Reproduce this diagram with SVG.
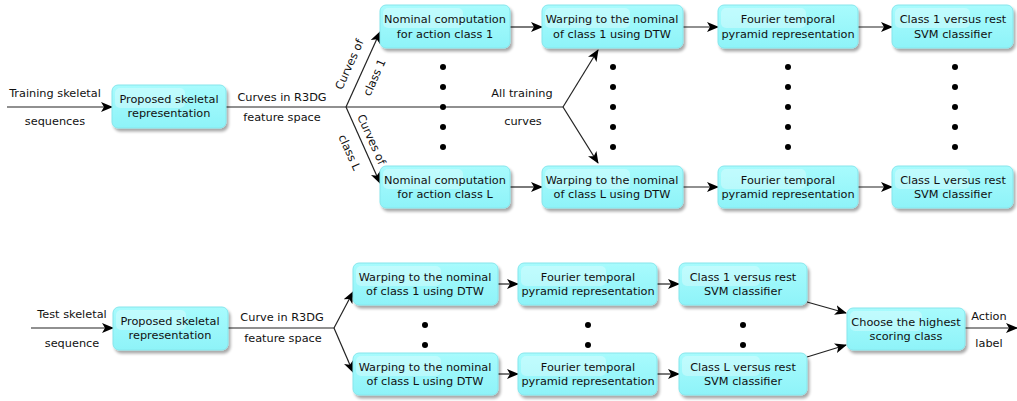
<svg xmlns="http://www.w3.org/2000/svg" width="1017" height="401" viewBox="0 0 1017 401">
<defs>
<linearGradient id="g" x1="0" y1="0" x2="0" y2="1">
<stop offset="0" stop-color="#a8fbfd"/>
<stop offset="1" stop-color="#8ef3f8"/>
</linearGradient>
<filter id="sh" x="-10%" y="-10%" width="130%" height="140%">
<feGaussianBlur in="SourceAlpha" stdDeviation="1.5"/>
<feOffset dx="2" dy="3" result="b"/>
<feComponentTransfer><feFuncA type="linear" slope="0.35"/></feComponentTransfer>
<feMerge><feMergeNode/><feMergeNode in="SourceGraphic"/></feMerge>
</filter>
<marker id="ah" viewBox="0 0 12 10" refX="11" refY="5" markerWidth="12" markerHeight="10" markerUnits="userSpaceOnUse" orient="auto">
<path d="M0,0 L12,5 L0,10 L3,5 z" fill="#000"/>
</marker>
</defs>
<style>
.box{fill:url(#g);stroke:#86e6ec;stroke-width:1;filter:url(#sh)}
.hl{fill:#ffffff;opacity:0.3}
text{font-family:"DejaVu Sans","Liberation Sans",sans-serif;font-size:11.3px;fill:#111}
.c{text-anchor:middle}
.ln{stroke:#222;stroke-width:1.2;fill:none}
.ar{stroke:#222;stroke-width:1.2;fill:none;marker-end:url(#ah)}
.dot{fill:#000}
</style>

<g id="connectors">
<line class="ar" x1="7" y1="107" x2="112" y2="107"/>
<line class="ln" x1="226" y1="107" x2="563" y2="107"/>
<line class="ar" x1="346" y1="107" x2="380" y2="32"/>
<line class="ar" x1="346" y1="107" x2="380" y2="183"/>
<line class="ar" x1="563" y1="107" x2="598" y2="50"/>
<line class="ar" x1="563" y1="107" x2="598" y2="163"/>
<line class="ar" x1="510" y1="27" x2="542" y2="27"/>
<line class="ar" x1="683" y1="27" x2="718" y2="27"/>
<line class="ar" x1="858" y1="27" x2="892" y2="27"/>
<line class="ar" x1="510" y1="187" x2="542" y2="187"/>
<line class="ar" x1="683" y1="187" x2="718" y2="187"/>
<line class="ar" x1="858" y1="187" x2="892" y2="187"/>
<line class="ar" x1="31" y1="328" x2="113" y2="328"/>
<line class="ln" x1="228" y1="328" x2="334" y2="328"/>
<line class="ar" x1="334" y1="328" x2="353" y2="292"/>
<line class="ar" x1="334" y1="328" x2="353" y2="372"/>
<line class="ar" x1="498" y1="284" x2="518" y2="284"/>
<line class="ar" x1="657" y1="284" x2="679" y2="284"/>
<line class="ar" x1="498" y1="374" x2="518" y2="374"/>
<line class="ar" x1="657" y1="374" x2="679" y2="374"/>
<line class="ar" x1="807" y1="302" x2="846" y2="313"/>
<line class="ar" x1="807" y1="357" x2="846" y2="345"/>
<line class="ar" x1="965" y1="328" x2="1017" y2="328"/>
</g>

<g id="labels">
<text class="c" x="55" y="97">Training skeletal</text>
<text class="c" x="55" y="125">sequences</text>
<text class="c" x="282" y="101">Curves in R3DG</text>
<text class="c" x="282" y="121">feature space</text>
<text class="c" transform="translate(353,66) rotate(-66)">Curves of</text>
<text class="c" transform="translate(378,79) rotate(-66)">class 1</text>
<text class="c" transform="translate(368,141) rotate(66)">Curves of</text>
<text class="c" transform="translate(346,154) rotate(66)">class L</text>
<text class="c" x="522" y="97">All training</text>
<text class="c" x="523" y="125">curves</text>
<text class="c" x="72" y="318">Test skeletal</text>
<text class="c" x="72" y="347">sequence</text>
<text class="c" x="282" y="321">Curve in R3DG</text>
<text class="c" x="283" y="342">feature space</text>
<text class="c" x="989" y="320">Action</text>
<text class="c" x="989" y="347">label</text>
</g>

<g id="dots">
<circle class="dot" cx="443" cy="67" r="3"/><circle class="dot" cx="443" cy="87" r="3"/><circle class="dot" cx="443" cy="107" r="3"/><circle class="dot" cx="443" cy="127" r="3"/><circle class="dot" cx="443" cy="147" r="3"/>
<circle class="dot" cx="613" cy="67" r="3"/><circle class="dot" cx="613" cy="87" r="3"/><circle class="dot" cx="613" cy="107" r="3"/><circle class="dot" cx="613" cy="127" r="3"/><circle class="dot" cx="613" cy="147" r="3"/>
<circle class="dot" cx="788" cy="67" r="3"/><circle class="dot" cx="788" cy="87" r="3"/><circle class="dot" cx="788" cy="107" r="3"/><circle class="dot" cx="788" cy="127" r="3"/><circle class="dot" cx="788" cy="147" r="3"/>
<circle class="dot" cx="955" cy="67" r="3"/><circle class="dot" cx="955" cy="87" r="3"/><circle class="dot" cx="955" cy="107" r="3"/><circle class="dot" cx="955" cy="127" r="3"/><circle class="dot" cx="955" cy="147" r="3"/>
<circle class="dot" cx="425" cy="325" r="3"/><circle class="dot" cx="425" cy="345" r="3"/>
<circle class="dot" cx="588" cy="325" r="3"/><circle class="dot" cx="588" cy="345" r="3"/>
<circle class="dot" cx="743" cy="325" r="3"/><circle class="dot" cx="743" cy="345" r="3"/>
</g>

<g id="train-proposed"><rect class="box" x="112" y="85" width="114" height="43" rx="6"/><rect class="hl" x="115" y="88" width="70" height="20" rx="5"/><text class="c" x="169" y="103">Proposed skeletal</text><text class="c" x="169" y="117">representation</text></g>
<g id="nominal-1"><rect class="box" x="380" y="5" width="130" height="43" rx="6"/><rect class="hl" x="383" y="8" width="80" height="20" rx="5"/><text class="c" x="445" y="23">Nominal computation</text><text class="c" x="445" y="38">for action class 1</text></g>
<g id="nominal-L"><rect class="box" x="380" y="166" width="130" height="42" rx="6"/><rect class="hl" x="383" y="169" width="80" height="20" rx="5"/><text class="c" x="445" y="184">Nominal computation</text><text class="c" x="445" y="198">for action class L</text></g>
<g id="warp-1"><rect class="box" x="542" y="5" width="141" height="43" rx="6"/><rect class="hl" x="545" y="8" width="85" height="20" rx="5"/><text class="c" x="612" y="23">Warping to the nominal</text><text class="c" x="612" y="38">of class 1 using DTW</text></g>
<g id="warp-L"><rect class="box" x="542" y="166" width="141" height="42" rx="6"/><rect class="hl" x="545" y="169" width="85" height="20" rx="5"/><text class="c" x="612" y="184">Warping to the nominal</text><text class="c" x="612" y="198">of class L using DTW</text></g>
<g id="fourier-1"><rect class="box" x="718" y="5" width="140" height="43" rx="6"/><rect class="hl" x="721" y="8" width="85" height="20" rx="5"/><text class="c" x="788" y="23">Fourier temporal</text><text class="c" x="788" y="38">pyramid representation</text></g>
<g id="fourier-L"><rect class="box" x="718" y="166" width="140" height="42" rx="6"/><rect class="hl" x="721" y="169" width="85" height="20" rx="5"/><text class="c" x="788" y="184">Fourier temporal</text><text class="c" x="788" y="198">pyramid representation</text></g>
<g id="svm-1"><rect class="box" x="892" y="5" width="121" height="43" rx="6"/><rect class="hl" x="895" y="8" width="75" height="20" rx="5"/><text class="c" x="953" y="23">Class 1 versus rest</text><text class="c" x="953" y="38">SVM classifier</text></g>
<g id="svm-L"><rect class="box" x="892" y="166" width="121" height="42" rx="6"/><rect class="hl" x="895" y="169" width="75" height="20" rx="5"/><text class="c" x="953" y="184">Class L versus rest</text><text class="c" x="953" y="198">SVM classifier</text></g>

<g id="test-proposed"><rect class="box" x="113" y="307" width="115" height="43" rx="6"/><rect class="hl" x="116" y="310" width="70" height="20" rx="5"/><text class="c" x="170" y="325">Proposed skeletal</text><text class="c" x="170" y="339">representation</text></g>
<g id="test-warp-1"><rect class="box" x="353" y="263" width="145" height="42" rx="6"/><rect class="hl" x="356" y="266" width="85" height="20" rx="5"/><text class="c" x="425" y="281">Warping to the nominal</text><text class="c" x="425" y="295">of class 1 using DTW</text></g>
<g id="test-warp-L"><rect class="box" x="353" y="353" width="145" height="42" rx="6"/><rect class="hl" x="356" y="356" width="85" height="20" rx="5"/><text class="c" x="425" y="371">Warping to the nominal</text><text class="c" x="425" y="385">of class L using DTW</text></g>
<g id="test-fourier-1"><rect class="box" x="518" y="263" width="139" height="42" rx="6"/><rect class="hl" x="521" y="266" width="85" height="20" rx="5"/><text class="c" x="588" y="281">Fourier temporal</text><text class="c" x="588" y="295">pyramid representation</text></g>
<g id="test-fourier-L"><rect class="box" x="518" y="353" width="139" height="42" rx="6"/><rect class="hl" x="521" y="356" width="85" height="20" rx="5"/><text class="c" x="588" y="371">Fourier temporal</text><text class="c" x="588" y="385">pyramid representation</text></g>
<g id="test-svm-1"><rect class="box" x="679" y="263" width="128" height="42" rx="6"/><rect class="hl" x="682" y="266" width="78" height="20" rx="5"/><text class="c" x="743" y="281">Class 1 versus rest</text><text class="c" x="743" y="295">SVM classifier</text></g>
<g id="test-svm-L"><rect class="box" x="679" y="353" width="128" height="42" rx="6"/><rect class="hl" x="682" y="356" width="78" height="20" rx="5"/><text class="c" x="743" y="371">Class L versus rest</text><text class="c" x="743" y="385">SVM classifier</text></g>
<g id="choose"><rect class="box" x="847" y="308" width="118" height="42" rx="6"/><rect class="hl" x="850" y="311" width="72" height="20" rx="5"/><text class="c" x="906" y="326">Choose the highest</text><text class="c" x="906" y="340">scoring class</text></g>
</svg>
